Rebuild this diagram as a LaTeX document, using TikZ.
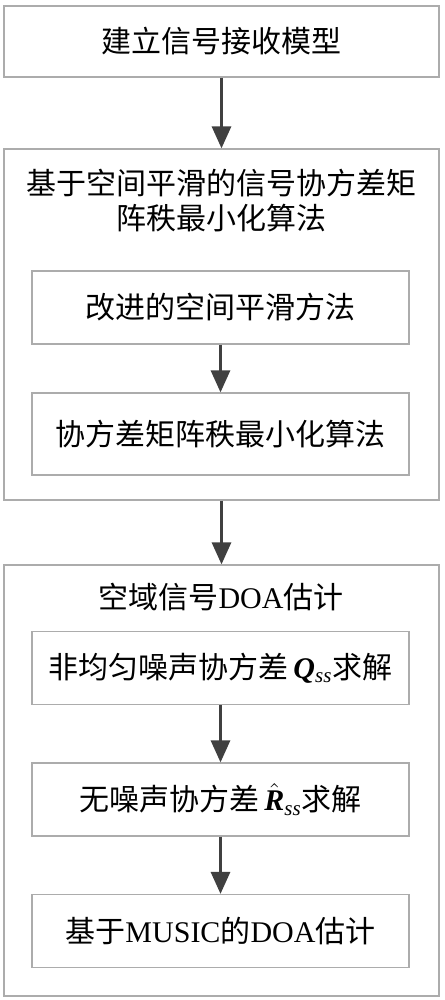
\documentclass[tikz,border=0pt]{standalone}
\usepackage{amsmath}
\usepackage{amssymb}
\usepackage{fontspec}
\setmainfont{Liberation Serif}
\newfontfamily\cjk{Noto Sans CJK SC}
\newcommand{\zh}[1]{{\cjk #1}}
\newcommand{\bivar}[1]{\textbf{\textit{#1}}}
\usepackage{xcolor}
\usepackage{tikz}
\usetikzlibrary{arrows.meta,positioning,calc}

\begin{document}
\begin{tikzpicture}[x=0.5pt, y=-0.5pt,
    box/.style={rectangle, draw=gray!65, line width=0.6pt, minimum width=217.5pt, minimum height=35.5pt, inner sep=0pt, align=center, font=\fontsize{15pt}{17.5pt}\selectfont},
    outerbox/.style={rectangle, draw=gray!65, line width=0.6pt, minimum width=217.5pt, inner sep=0pt},
    subbox/.style={rectangle, draw=gray!65, line width=0.6pt, minimum width=188.5pt, minimum height=36.5pt, inner sep=0pt, align=center, font=\fontsize{15pt}{17.5pt}\selectfont},
    title/.style={inner sep=0pt, align=center, font=\fontsize{15pt}{17.5pt}\selectfont},
    arrow/.style={-{Triangle[length=11pt, width=9.5pt]}, line width=1.5pt, draw=black!75}
]
\useasboundingbox (0,0) rectangle (444,1000);

\node[box] (model) at (221.5,41.5) {\zh{建立信号接收模型}};

% spatial smoothing + rank minimization
\node[outerbox, minimum height=175.5pt] (rankmin) at (221.5,324.5) {};
\node[title] (rankmintitle) at (221,200.5) {\zh{基于空间平滑的信号协方差矩}\\\zh{阵秩最小化算法}};
\node[subbox] (smooth) at (220.5,307.5) {\zh{改进的空间平滑方法}};
\node[subbox, minimum height=41pt] (covrank) at (220.5,434) {\zh{协方差矩阵秩最小化算法}};

% DOA estimation
\node[outerbox, minimum height=215.5pt] (doa) at (221.5,780.5) {};
\node[title] (doatitle) at (221,597) {\zh{空域信号}DOA\zh{估计}};
\node[subbox] (noise) at (220.5,668) {\zh{非均匀噪声协方差}\,\bivar{Q}\textsubscript{\textit{ss}}\zh{求解}};
\node[subbox] (noisefree) at (220.5,799.5) {\zh{无噪声协方差}\,$\hat{\bivar{R}}$\textsubscript{\textit{ss}}\zh{求解}};
\node[subbox] (music) at (220.5,931) {\zh{基于}MUSIC\zh{的}DOA\zh{估计}};

\draw[arrow] (model) -- (rankmin);
\draw[arrow] (smooth) -- (covrank);
\draw[arrow] (rankmin) -- (doa);
\draw[arrow] (noise) -- (noisefree);
\draw[arrow] (noisefree) -- (music);
\end{tikzpicture}
\end{document}
